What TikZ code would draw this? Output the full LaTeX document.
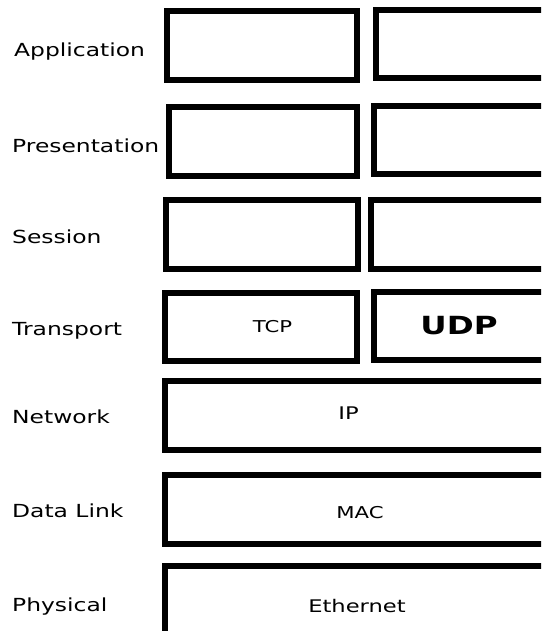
\documentclass[tikz,border=0pt]{standalone}
\usepackage{fontspec}
\setmainfont{DejaVu Sans}[FakeStretch=1.3]
\begin{document}
\begin{tikzpicture}[x=1pt,y=-1pt,
  layer/.style={draw=black,line width=6pt,fill=white,rectangle,inner sep=0pt,outer sep=0pt},
  lab/.style={anchor=base west,inner sep=0pt,font=\fontsize{18}{20}\selectfont},
  txt/.style={anchor=base,inner sep=0pt,font=\fontsize{17.4}{20}\selectfont},
  smalltxt/.style={anchor=base,inner sep=0pt,font=\fontsize{16.3}{20}\selectfont},
  bigtxt/.style={anchor=base,inner sep=0pt,font=\fontsize{25}{27}\selectfont\bfseries}]
\useasboundingbox (0,0) rectangle (541,631);
\clip (0,0) rectangle (541,631);
\fill[white] (0,0) rectangle (541,631);
% layer labels
\node[lab] (lapp) at (14,57) {Application};
\node[lab] (lpre) at (12,153) {Presentation};
\node[lab] (lses) at (12,243) {Session};
\node[lab] (ltra) at (12,335) {Transport};
\node[lab] (lnet) at (12,423) {Network};
\node[lab] (ldat) at (12,517) {Data Link};
\node[lab] (lphy) at (12,611) {Physical};
% boxes
\node[layer,minimum width=190pt,minimum height=69pt] (app1) at (262,45.5) {};
\node[layer,minimum width=184pt,minimum height=68pt] (app2) at (468,44) {};
\node[layer,minimum width=188pt,minimum height=69pt] (pre1) at (263,141.5) {};
\node[layer,minimum width=186pt,minimum height=68pt] (pre2) at (467,140) {};
\node[layer,minimum width=192pt,minimum height=69pt] (ses1) at (262,234.5) {};
\node[layer,minimum width=189pt,minimum height=69pt] (ses2) at (465.5,234.5) {};
\node[layer,minimum width=192pt,minimum height=68pt] (tcp) at (261,327) {};
\node[layer,minimum width=186pt,minimum height=68pt] (udp) at (467,326) {};
\node[layer,minimum width=395pt,minimum height=69pt] (ip) at (362.5,415.5) {};
\node[layer,minimum width=395pt,minimum height=69pt] (mac) at (362.5,509.5) {};
\node[layer,minimum width=395pt,minimum height=94pt] (eth) at (362.5,613) {};
% box texts
\node[smalltxt] (ttcp) at (272.5,332) {TCP};
\node[bigtxt] (tudp) at (459,334) {UDP};
\node[txt] (tip) at (348.5,419) {IP};
\node[smalltxt] (tmac) at (360,518) {MAC};
\node[txt] (teth) at (357,612) {Ethernet};
\end{tikzpicture}
\end{document}
